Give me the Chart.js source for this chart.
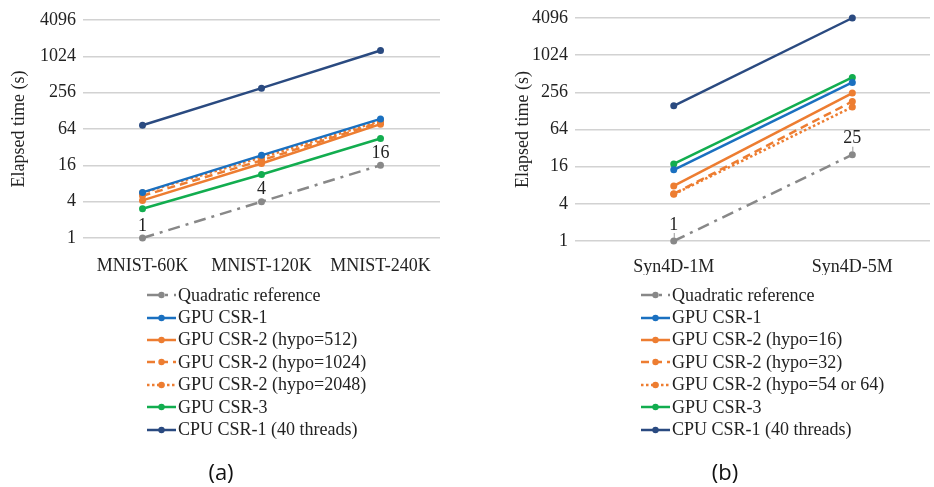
<!DOCTYPE html>
<html><head><meta charset="utf-8">
<script src="https://cdn.jsdelivr.net/npm/chart.js@4.4.1/dist/chart.umd.min.js"></script>
<style>
html,body{margin:0;padding:0;background:#fff;}
body{width:934px;height:487px;position:relative;overflow:hidden;font-family:"Liberation Serif","Times New Roman",serif;}
#ca{position:absolute;left:0;top:0;}
#cb{position:absolute;left:460px;top:0;}
.legend{position:absolute;top:284px;font-size:18px;color:#222;}
.legend .item{height:22.4px;display:flex;align-items:center;white-space:nowrap;}
.legend canvas{margin-right:2px;display:block;}
.cap{position:absolute;top:456px;width:80px;text-align:center;line-height:30px;font-family:"Open Sans","DejaVu Sans",sans-serif;font-size:22px;color:#111;}
</style></head>
<body>
<canvas id="ca" width="460" height="275"></canvas>
<canvas id="cb" width="474" height="275"></canvas>
<div class="legend" id="la" style="left:147px"></div>
<div class="legend" id="lb" style="left:641px"></div>
<div class="cap" style="left:181px">(a)</div>
<div class="cap" style="left:685px">(b)</div>
<script>
// ---- data (a) ----
const catsA = ['MNIST-60K','MNIST-120K','MNIST-240K'];
const quadA = [1, 4, 16];
const gpu1A = [5.7, 23.4, 94];
const gpu2_512A = [4.2, 17.2, 77];
const gpu2_1024A = [5.0, 19.3, 83];
const gpu2_2048A = [5.6, 21.7, 87];
const gpu3A = [3.05, 11.3, 44.6];
const cpuA = [74, 304, 1280];
// ---- data (b) ----
const catsB = ['Syn4D-1M','Syn4D-5M'];
const quadB = [1, 25];
const gpu1B = [14.2, 371];
const gpu2_16B = [7.8, 249];
const gpu2_32B = [5.8, 182];
const gpu2_64B = [5.7, 148];
const gpu3B = [17.7, 446];
const cpuB = [155, 4096];
// ---- tick labels ----
const yTicks = [1, 4, 16, 64, 256, 1024, 4096];
const yTitle = 'Elapsed time (s)';

const FONT = '"Liberation Serif","Times New Roman",serif';
const C = {gray:'#888888', blue:'#1A70C0', orange:'#ED7D31', green:'#12AD4F', navy:'#2A4A80'};

const seriesA = [
  {label:'Quadratic reference', data:quadA, color:C.gray, dash:[12,6,3,6]},
  {label:'GPU CSR-1', data:gpu1A, color:C.blue, dash:[]},
  {label:'GPU CSR-2 (hypo=512)', data:gpu2_512A, color:C.orange, dash:[]},
  {label:'GPU CSR-2 (hypo=1024)', data:gpu2_1024A, color:C.orange, dash:[8,5]},
  {label:'GPU CSR-2 (hypo=2048)', data:gpu2_2048A, color:C.orange, dash:[2.5,2.5]},
  {label:'GPU CSR-3', data:gpu3A, color:C.green, dash:[]},
  {label:'CPU CSR-1 (40 threads)', data:cpuA, color:C.navy, dash:[]}
];
const seriesB = [
  {label:'Quadratic reference', data:quadB, color:C.gray, dash:[12,6,3,6]},
  {label:'GPU CSR-1', data:gpu1B, color:C.blue, dash:[]},
  {label:'GPU CSR-2 (hypo=16)', data:gpu2_16B, color:C.orange, dash:[]},
  {label:'GPU CSR-2 (hypo=32)', data:gpu2_32B, color:C.orange, dash:[8,5]},
  {label:'GPU CSR-2 (hypo=54 or 64)', data:gpu2_64B, color:C.orange, dash:[2.5,2.5]},
  {label:'GPU CSR-3', data:gpu3B, color:C.green, dash:[]},
  {label:'CPU CSR-1 (40 threads)', data:cpuB, color:C.navy, dash:[]}
];

const quadLabels = {
  id:'quadLabels',
  afterDatasetsDraw(chart, args, opts){
    const meta = chart.getDatasetMeta(0);
    const ds = chart.data.datasets[0];
    const ctx = chart.ctx;
    ctx.save();
    ctx.font = '18px ' + FONT;
    ctx.fillStyle = '#222';
    ctx.textAlign = 'center';
    ctx.textBaseline = 'middle';
    meta.data.forEach((pt, i) => {
      ctx.fillText(String(ds.data[i].y), pt.x, pt.y - opts.offset);
      if (opts.leader) {
        ctx.strokeStyle = '#9a9a9a'; ctx.lineWidth = 1;
        ctx.beginPath(); ctx.moveTo(pt.x + 0.5, pt.y - 8); ctx.lineTo(pt.x + 0.5, pt.y - 3); ctx.stroke();
      }
    });
    ctx.restore();
  }
};

function makeChart(id, cats, series, o){
  return new Chart(document.getElementById(id), {
    type:'line',
    data:{
      datasets: series.map(s => ({
        label:s.label,
        data:s.data.map((v,i)=>({x:i, y:v})),
        borderColor:s.color, backgroundColor:s.color,
        borderWidth:2.5, borderDash:s.dash,
        pointRadius:3.5, pointBorderWidth:0, pointBackgroundColor:s.color,
        tension:0, clip:false
      }))
    },
    plugins:[quadLabels],
    options:{
      responsive:false, animation:false, devicePixelRatio:1,
      layout:{padding:{top:o.top, right:o.right, left:0, bottom:0}},
      plugins:{legend:{display:false}, tooltip:{enabled:false}, quadLabels:{offset:o.lblOff, leader:o.leader}},
      scales:{
        x:{type:'linear', min:o.xmin, max:o.xmax,
          grid:{display:false}, border:{display:false},
          afterBuildTicks: s => { s.ticks = cats.map((c,i)=>({value:i})); },
          ticks:{callback: v => (cats[v] !== undefined ? cats[v] : ''), font:{family:FONT, size:18}, color:'#222', padding:o.xpad, maxRotation:0, autoSkip:false},
          afterFit: s => { s.height = o.xh; }
        },
        y:{type:'logarithmic', min:1, max:4096,
          afterBuildTicks: s => { s.ticks = yTicks.map(v=>({value:v})); },
          ticks:{callback: v => String(v), font:{family:FONT, size:18}, color:'#222', padding:7, autoSkip:false},
          grid:{color:'#d2d2d2', lineWidth:1.5, drawTicks:false}, border:{display:false},
          title:{display:true, text:yTitle, font:{family:FONT, size:18}, color:'#222', padding:{top:o.titlePad, bottom:0}},
          afterFit: s => { s.width = o.yw; }
        }
      }
    }
  });
}

makeChart('ca', catsA, seriesA, {top:20, right:20, xmin:-0.5, xmax:2.5, xh:37, xpad:9, yw:83, titlePad:8, lblOff:12, leader:false});
makeChart('cb', catsB, seriesB, {top:18, right:0, xmin:-0.553, xmax:1.435, xh:34, xpad:7, yw:115, titlePad:52, lblOff:16, leader:true});

function buildLegend(id, series){
  const el = document.getElementById(id);
  series.forEach(s => {
    const row = document.createElement('div'); row.className = 'item';
    const c = document.createElement('canvas'); c.width = 29; c.height = 12;
    const g = c.getContext('2d');
    g.strokeStyle = s.color; g.lineWidth = 2.5; g.setLineDash(s.dash);
    g.beginPath(); g.moveTo(0,6); g.lineTo(29,6); g.stroke();
    g.setLineDash([]); g.fillStyle = s.color;
    g.beginPath(); g.arc(14.5,6,3.2,0,Math.PI*2); g.fill();
    row.appendChild(c);
    const t = document.createElement('span'); t.textContent = s.label;
    row.appendChild(t);
    el.appendChild(row);
  });
}
buildLegend('la', seriesA);
buildLegend('lb', seriesB);
</script>
</body></html>
